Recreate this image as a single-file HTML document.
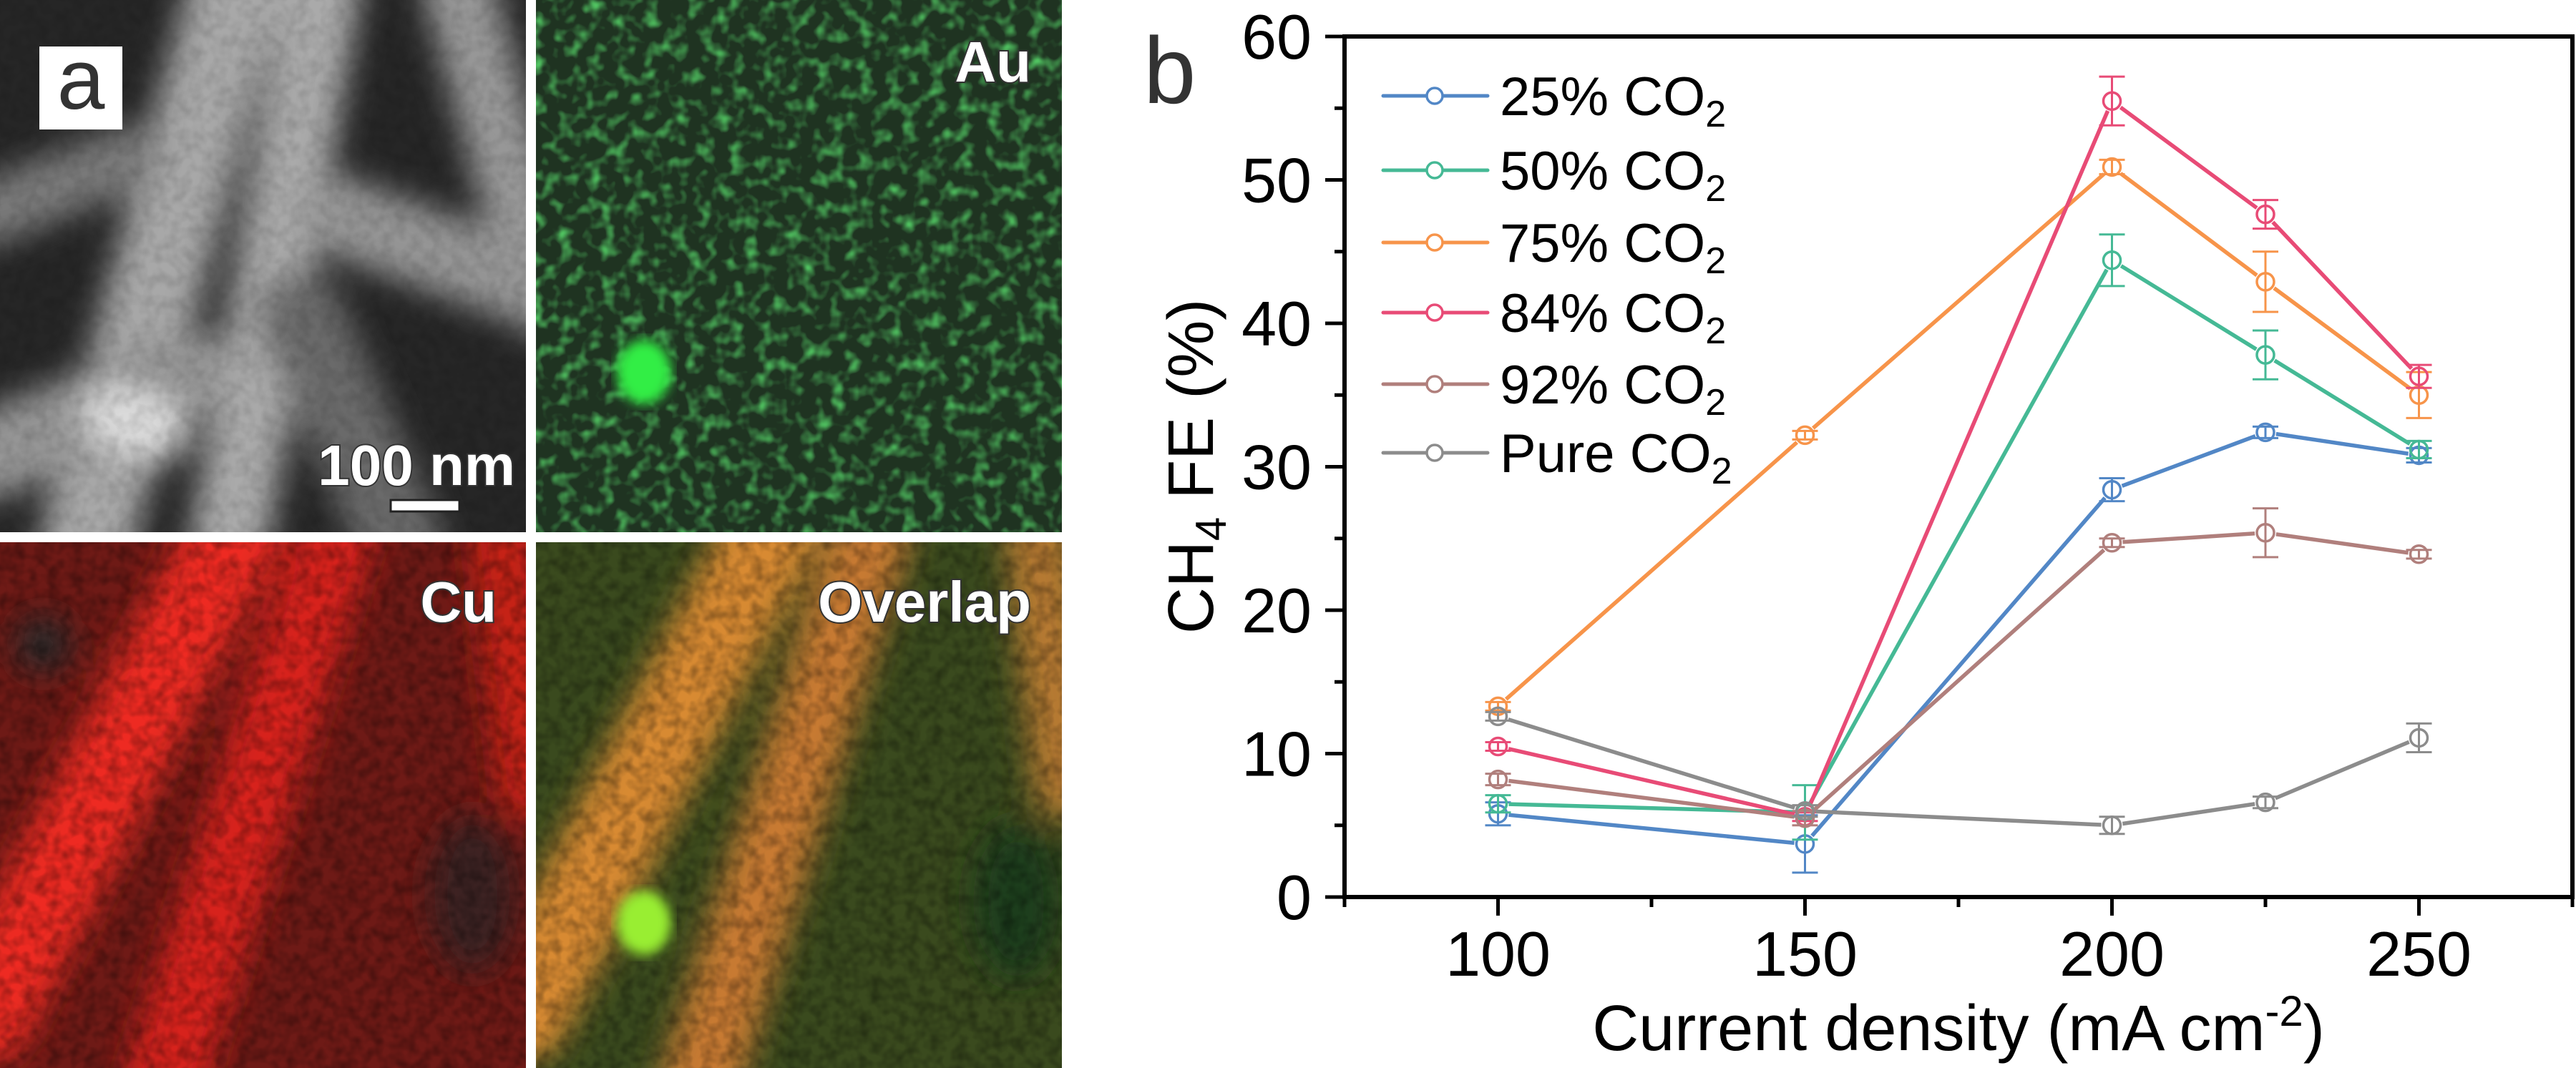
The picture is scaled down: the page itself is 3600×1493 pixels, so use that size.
<!DOCTYPE html>
<html><head><meta charset="utf-8">
<style>
html,body{margin:0;padding:0;background:#fff;}
body{width:3600px;height:1493px;position:relative;overflow:hidden;font-family:"Liberation Sans",Arial,sans-serif;}
svg{position:absolute;left:0;top:0;}
</style></head>
<body>
<svg width="3600" height="1493" viewBox="0 0 3600 1493" xmlns="http://www.w3.org/2000/svg" id="fig">
<defs>
  <filter id="blur20" x="-20%" y="-20%" width="140%" height="140%"><feGaussianBlur stdDeviation="22"/></filter>
  <filter id="blur8"><feGaussianBlur stdDeviation="8"/></filter>
  <filter id="noise" x="0" y="0" width="100%" height="100%">
    <feTurbulence type="fractalNoise" baseFrequency="0.06" numOctaves="2" seed="3" result="t"/>
    <feColorMatrix type="matrix" values="0 0 0 0 0  0 0 0 0 0  0 0 0 0 0  0 0 0 -1.3 0.85"/>
  </filter>
  <filter id="gnoise" x="0" y="0" width="100%" height="100%">
    <feTurbulence type="fractalNoise" baseFrequency="0.05" numOctaves="2" seed="7"/>
    <feColorMatrix type="matrix" values="0 0 0 0 0.1  0 0 0 0 0.72  0 0 0 0 0.15  0 0 0 2.0 -0.95"/>
  </filter>
  <clipPath id="cTL"><rect x="0" y="0" width="735" height="744"/></clipPath>
  <clipPath id="cTR"><rect x="749" y="0" width="735" height="744"/></clipPath>
  <clipPath id="cBL"><rect x="0" y="758" width="735" height="735"/></clipPath>
  <clipPath id="cBR"><rect x="749" y="758" width="735" height="735"/></clipPath>
</defs>

<g clip-path="url(#cTL)">
  <rect x="0" y="0" width="735" height="744" fill="#262626"/>
  <g filter="url(#blur20)" stroke-linecap="round" fill="none">
    <path d="M330 -20 L120 760" stroke="#a8a8a8" stroke-width="130"/>
    <path d="M450 -20 L320 760" stroke="#aaaaaa" stroke-width="110"/>
    <path d="M640 -20 L760 420" stroke="#999" stroke-width="100"/>
    <path d="M470 300 L740 400" stroke="#959595" stroke-width="110"/>
    <path d="M-20 300 L180 220" stroke="#7a7a7a" stroke-width="90"/>
    <path d="M-20 640 L260 520" stroke="#959595" stroke-width="120"/>
    <path d="M420 440 L560 760" stroke="#6a6a6a" stroke-width="120"/>
    <path d="M160 580 L220 600" stroke="#dcdcdc" stroke-width="90"/>
  </g>
  <rect x="0" y="0" width="735" height="744" fill="#000" opacity="0.18" filter="url(#noise)"/>
</g>
<g clip-path="url(#cTR)">
  <rect x="749" y="0" width="735" height="744" fill="#1f3321"/>
  <rect x="749" y="0" width="735" height="744" filter="url(#gnoise)"/>
  <ellipse cx="900" cy="520" rx="38" ry="45" fill="#33ee44" filter="url(#blur8)"/>
</g>
<g clip-path="url(#cBL)">
  <rect x="0" y="758" width="735" height="735" fill="#6e1a16"/>
  <g filter="url(#blur20)" stroke-linecap="round" fill="none">
    <path d="M330 740 L-20 1420" stroke="#ee2a22" stroke-width="130"/>
    <path d="M470 740 L230 1510" stroke="#d8221c" stroke-width="110"/>
    <path d="M700 740 L740 1100" stroke="#c82018" stroke-width="90"/>
    <ellipse cx="60" cy="900" rx="40" ry="40" fill="#2a2a2a"/>
    <ellipse cx="660" cy="1250" rx="60" ry="110" fill="#3a2020" stroke="none"/>
  </g>
  <rect x="0" y="758" width="735" height="735" fill="#1a1a1a" opacity="0.5" filter="url(#noise)"/>
</g>
<g clip-path="url(#cBR)">
  <rect x="749" y="758" width="735" height="735" fill="#3a4a1e"/>
  <g filter="url(#blur20)" stroke-linecap="round" fill="none">
    <path d="M1079 740 L729 1420" stroke="#d88a30" stroke-width="130"/>
    <path d="M1219 740 L979 1510" stroke="#c87a30" stroke-width="110"/>
    <path d="M1449 740 L1489 1100" stroke="#b87a30" stroke-width="90"/>
    <ellipse cx="1420" cy="1260" rx="60" ry="110" fill="#1e3e1a" stroke="none"/>
  </g>
  <rect x="749" y="758" width="735" height="735" fill="#1a1a1a" opacity="0.5" filter="url(#noise)"/>
  <ellipse cx="900" cy="1290" rx="38" ry="45" fill="#99ee33" filter="url(#blur8)"/>
</g>

<g font-family="Liberation Sans, Arial, sans-serif">
  <rect x="55" y="65" width="116" height="116" fill="#fff"/>
  <text x="113" y="152" font-size="120" text-anchor="middle" fill="#333">a</text>
  <text x="1441" y="114" font-size="80" font-weight="bold" text-anchor="end" fill="#fff" stroke="#333" stroke-width="4" paint-order="stroke">Au</text>
  <text x="720" y="678" font-size="80" font-weight="bold" text-anchor="end" fill="#fff" stroke="#333" stroke-width="4" paint-order="stroke">100 nm</text>
  <rect x="546" y="699" width="96" height="16" fill="#fff" stroke="#222" stroke-width="3"/>
  <text x="694" y="869" font-size="80" font-weight="bold" text-anchor="end" fill="#fff" stroke="#333" stroke-width="4" paint-order="stroke">Cu</text>
  <text x="1441" y="869" font-size="80" font-weight="bold" text-anchor="end" fill="#fff" stroke="#333" stroke-width="4" paint-order="stroke">Overlap</text>
</g>

<text x="1598" y="144" font-size="132" fill="#333">b</text>
<g id="chart"></g>
</svg>

<script>
const categories = [100, 150, 200, 225, 250];
const seriesNames = ["25% CO", "50% CO", "75% CO", "84% CO", "92% CO", "Pure CO"];
const s25 = [5.8, 3.7, 28.4, 32.4, 30.8];
const s50 = [6.5, 5.9, 44.4, 37.8, 31.2];
const s75 = [13.3, 32.2, 50.9, 42.9, 35.0];
const s84 = [10.5, 5.6, 55.5, 47.6, 36.3];
const s92 = [8.2, 5.5, 24.7, 25.4, 23.9];
const sPure = [12.6, 6.0, 5.0, 6.6, 11.1];
const e25 = [0.8, 2.0, 0.8, 0.4, 0.5];
const e50 = [0.6, 1.9, 1.8, 1.7, 0.6];
const e75 = [0.3, 0.3, 0.5, 2.1, 1.6];
const e84 = [0.3, 0.3, 1.7, 1.0, 0.8];
const e92 = [0.4, 0.5, 0.3, 1.7, 0.3];
const ePure = [0.3, 0.4, 0.6, 0.4, 1.0];
const xTicks = [100, 150, 200, 250];
const xMinorTicks = [75, 125, 175, 225, 275];
const yTicks = [0, 10, 20, 30, 40, 50, 60];
const yMinorTicks = [5, 15, 25, 35, 45, 55];

const colors = ["#5287c6", "#45b995", "#f7944a", "#e84b76", "#b07f7c", "#8c8c8c"];
const allVals = [s25, s50, s75, s84, s92, sPure];
const allErr = [e25, e50, e75, e84, e92, ePure];

const X0 = 1879, X1 = 3595, Y0 = 1254, Y1 = 51;
const xMin = 75, xMax = 275, yMin = 0, yMax = 60;
function xs(v){ return X0 + (v - xMin) * (X1 - X0) / (xMax - xMin); }
function ys(v){ return Y0 - (v - yMin) * (Y0 - Y1) / (yMax - yMin); }

const NS = "http://www.w3.org/2000/svg";
const chart = document.getElementById("chart");
function mk(tag, attrs, parent){
  const e = document.createElementNS(NS, tag);
  for (const k in attrs) e.setAttribute(k, attrs[k]);
  (parent || chart).appendChild(e);
  return e;
}

let el = mk("rect", {x: X0, y: Y1, width: X1 - X0, height: Y0 - Y1, fill: "none", stroke: "#000", "stroke-width": 6});



xTicks.forEach(function(t){
  const tk = mk("line", {x1: xs(t), x2: xs(t), y1: Y0, y2: Y0 + 26, stroke: "#000", "stroke-width": 5});
  
  
  const lb = mk("text", {x: xs(t), y: Y0 + 110, "font-size": 88, "text-anchor": "middle", fill: "#000"});
  lb.textContent = t;
  
  
});
xMinorTicks.forEach(function(t){
  const tk = mk("line", {x1: xs(t), x2: xs(t), y1: Y0, y2: Y0 + 14, stroke: "#000", "stroke-width": 5});
  
  
});
yTicks.forEach(function(t){
  const tk = mk("line", {x1: X0 - 27, x2: X0, y1: ys(t), y2: ys(t), stroke: "#000", "stroke-width": 5});
  
  
  const lb = mk("text", {x: X0 - 46, y: ys(t) + 31, "font-size": 88, "text-anchor": "end", fill: "#000"});
  lb.textContent = t;
  
  
});
yMinorTicks.forEach(function(t){
  const tk = mk("line", {x1: X0 - 14, x2: X0, y1: ys(t), y2: ys(t), stroke: "#000", "stroke-width": 5});
  
  
});

const xt = mk("text", {x: (X0 + X1) / 2, y: 1468, "font-size": 90, "text-anchor": "middle", fill: "#000"});
xt.innerHTML = 'Current density (mA cm<tspan dy="-34" font-size="60">-2</tspan><tspan dy="34">)</tspan>';


const yt = mk("text", {x: 0, y: 0, "font-size": 90, "text-anchor": "middle", fill: "#000", transform: "translate(1695,652) rotate(-90)"});
yt.innerHTML = 'CH<tspan dy="18" font-size="60">4</tspan><tspan dy="-18"> FE (%)</tspan>';



const R = 12;
allVals.forEach(function(vals, si){
  const c = colors[si];
  const g = mk("g", {});
  
  
  for (let i = 0; i < vals.length - 1; i++){
    const xa = xs(categories[i]), ya = ys(vals[i]), xb = xs(categories[i+1]), yb = ys(vals[i+1]);
    const dx = xb - xa, dy = yb - ya, L = Math.hypot(dx, dy);
    const gap = R + 3;
    const ln = mk("line", {x1: xa + dx/L*gap, y1: ya + dy/L*gap, x2: xb - dx/L*gap, y2: yb - dy/L*gap, stroke: c, "stroke-width": 5.5}, g);
    
    
  }
  vals.forEach(function(v, i){
    const cx = xs(categories[i]), cy = ys(v), e = allErr[si][i];
    const eb = mk("path", {d: "M" + (cx-18) + " " + ys(v+e) + "H" + (cx+18) + "M" + cx + " " + ys(v+e) + "V" + ys(v-e) + "M" + (cx-18) + " " + ys(v-e) + "H" + (cx+18), stroke: c, "stroke-width": 3, fill: "none"}, g);
    
    
    const pt = mk("circle", {cx: cx, cy: cy, r: R, fill: "none", stroke: c, "stroke-width": 3.5}, g);
    
    
  });
});

const legendY = [134, 238, 339, 437, 537, 633];
seriesNames.forEach(function(n, si){
  const c = colors[si], y = legendY[si];
  const g = mk("g", {});
  
  
  mk("line", {x1: 1933, x2: 1993, y1: y, y2: y, stroke: c, "stroke-width": 5, "stroke-linecap": "round"}, g);
  mk("line", {x1: 2017, x2: 2079, y1: y, y2: y, stroke: c, "stroke-width": 5, "stroke-linecap": "round"}, g);
  mk("circle", {cx: 2005, cy: y, r: 11, fill: "none", stroke: c, "stroke-width": 3.5}, g);
  const t = mk("text", {x: 2096, y: y + 27, "font-size": 76, fill: "#000"}, g);
  t.innerHTML = n + '<tspan dy="16" font-size="52">2</tspan>';
});
</script>
</body></html>
